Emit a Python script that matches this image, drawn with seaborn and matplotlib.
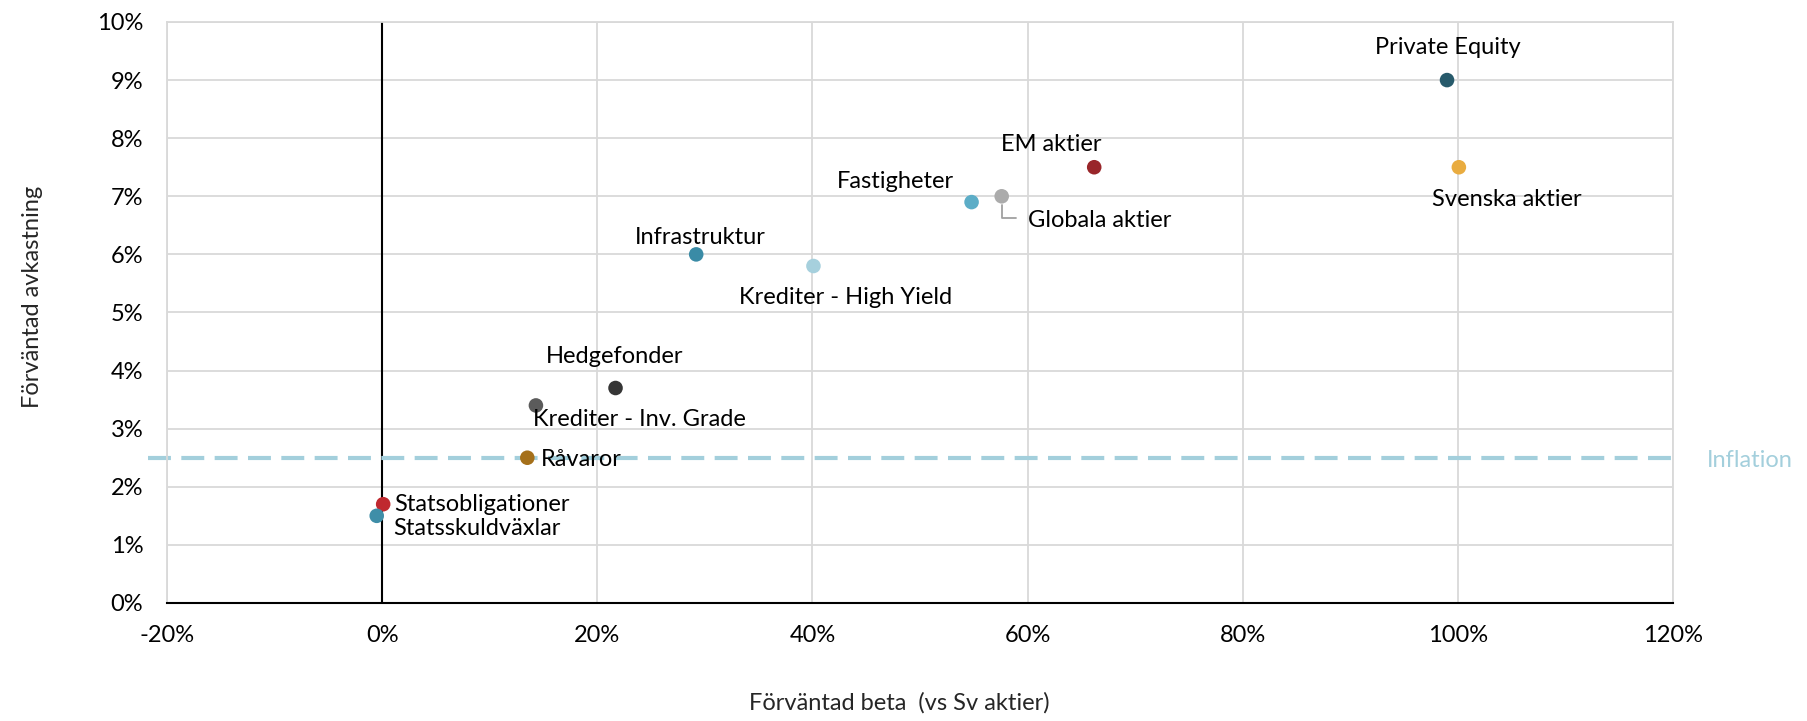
import matplotlib
matplotlib.use("Agg")
import matplotlib.pyplot as plt
import seaborn as sns
import pandas as pd

# Expected beta vs Swedish equities (%) and expected return (%) per asset class
assets = [
    "Statsobligationer", "Statsskuldväxlar", "Råvaror", "Krediter - Inv. Grade",
    "Hedgefonder", "Infrastruktur", "Krediter - High Yield", "Fastigheter",
    "Globala aktier", "EM aktier", "Private Equity", "Svenska aktier",
]
beta = [0.1, -0.5, 13.5, 14.3, 21.7, 29.2, 40.1, 54.8, 57.6, 66.2, 99.0, 100.1]
expected_return = [1.7, 1.5, 2.5, 3.4, 3.7, 6.0, 5.8, 6.9, 7.0, 7.5, 9.0, 7.5]
colors = [
    "#C0292F", "#3F8EA8", "#A5701A", "#5B5B5B",
    "#363636", "#3A8BA6", "#A6D0DD", "#5CADC7",
    "#ABABAB", "#99262A", "#275A6B", "#E9AC40",
]
inflation = 2.5

x_ticks = [-20, 0, 20, 40, 60, 80, 100, 120]
y_ticks = list(range(0, 11))

# Label placement relative to each point (pixels) and horizontal alignment
label_offsets = {
    "Statsobligationer": (11, 0, "left"),
    "Statsskuldväxlar": (16, -13, "left"),
    "Råvaror": (14, -2, "left"),
    "Krediter - Inv. Grade": (-3, -14, "left"),
    "Hedgefonder": (-1, 32, "center"),
    "Infrastruktur": (4, 17, "center"),
    "Krediter - High Yield": (32, -31, "center"),
    "Fastigheter": (-76, 21, "center"),
    "Globala aktier": (26, -24, "left"),
    "EM aktier": (-43, 23, "center"),
    "Private Equity": (1, 33, "center"),
    "Svenska aktier": (48, -32, "center"),
}

df = pd.DataFrame({"asset": assets, "beta": beta, "ret": expected_return})

sns.set_style("white")
plt.rcParams["font.family"] = ["Lato", "DejaVu Sans"]
FS = 17

fig = plt.figure(figsize=(18.07, 7.21), dpi=100)
ax = fig.add_axes([0.0924, 0.1637, 0.9258 - 0.0924, 0.9695 - 0.1637])

grid_c = "#D9D9D9"
ax.set_xlim(-20, 120)
ax.set_ylim(0, 10)
ax.set_xticks(x_ticks)
ax.set_yticks(y_ticks)
ax.set_xticklabels([f"{t}%" for t in x_ticks])
ax.set_yticklabels([f"{t}%" for t in y_ticks])
ax.grid(True, color=grid_c, linewidth=1.3)
ax.set_axisbelow(True)
for side in ["left", "right", "top"]:
    ax.spines[side].set_color(grid_c)
    ax.spines[side].set_linewidth(1.3)
ax.spines["bottom"].set_color("black")
ax.spines["bottom"].set_linewidth(1.5)
ax.tick_params(axis="both", length=0, labelsize=FS, colors="black")
ax.tick_params(axis="x", pad=16)
ax.tick_params(axis="y", pad=17)

# Vertical zero-beta line
ax.axvline(0, color="black", linewidth=1.5, zorder=1.5)

# Inflation reference line
ax.plot([-21.8, 120.4], [inflation, inflation], color="#A3CFDC", linewidth=3,
        dashes=(5.5, 2.5), clip_on=False, zorder=1.6)
ax.annotate("Inflation", xy=(120, inflation), xytext=(34, -3),
            textcoords="offset pixels", ha="left", va="center",
            color="#A3CFDC", fontsize=FS, annotation_clip=False)

sns.scatterplot(data=df, x="beta", y="ret", hue="asset",
                palette=dict(zip(assets, colors)), s=110, linewidth=0,
                legend=False, ax=ax, zorder=3)

for a, bx, ry in zip(assets, beta, expected_return):
    dx, dy, ha = label_offsets[a]
    ax.annotate(a, xy=(bx, ry), xytext=(dx, dy), textcoords="offset pixels",
                ha=ha, va="center", fontsize=FS, color="black", zorder=4)

# Leader line for Globala aktier
gi = assets.index("Globala aktier")
ax.annotate("", xy=(beta[gi], expected_return[gi]), xytext=(14, -22),
            textcoords="offset pixels",
            arrowprops=dict(arrowstyle="-", color="#A0A0A0", linewidth=1.3,
                            connectionstyle="angle,angleA=0,angleB=90,rad=0",
                            shrinkA=0, shrinkB=6))

ax.set_xlabel("Förväntad beta  (vs Sv aktier)", fontsize=FS, va="center")
ax.set_ylabel("Förväntad avkastning", fontsize=FS, va="center")
ax.xaxis.set_label_coords(0.486, -0.172)
ax.yaxis.set_label_coords(-0.0896, 0.527)

fig.savefig("out.png", dpi=100)
